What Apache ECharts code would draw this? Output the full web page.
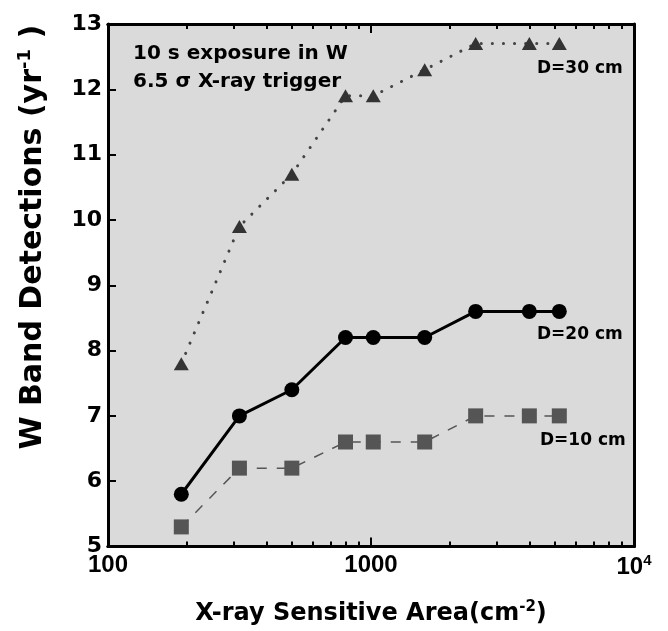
<!DOCTYPE html>
<html>
<head>
<meta charset="utf-8">
<script src="https://cdn.jsdelivr.net/npm/echarts@6/dist/echarts.min.js"></script>
<style>
  html, body { margin: 0; padding: 0; background: #fff; }
  #chart { width: 668px; height: 631px; }
</style>
</head>
<body>
<div id="chart"></div>
<script>
// x-ray sensitive area (cm^-2)
const areas = [190, 316, 500, 800, 1020, 1600, 2500, 4000, 5200]
// detections per year for each distance
const d30 = [7.8, 9.9, 10.7, 11.9, 11.9, 12.3, 12.7, 12.7, 12.7]
const d20 = [5.8, 7.0, 7.4, 8.2, 8.2, 8.2, 8.6, 8.6, 8.6]
const d10 = [5.3, 6.2, 6.2, 6.6, 6.6, 6.6, 7.0, 7.0, 7.0]
const seriesNames = ['D=30 cm', 'D=20 cm', 'D=10 cm']
const xMajor = [100, 1000, 10000]
const xMinor = [200, 300, 400, 500, 600, 700, 800, 900, 2000, 3000, 4000, 5000, 6000, 7000, 8000, 9000]

const sansFont = '"Liberation Sans", Arial, sans-serif'
const textFont = '"DejaVu Sans", sans-serif'

function pairs(ys) {
  return areas.map((x, i) => [x, ys[i]])
}

function xAxisDef(pos, ticks, len, withLabels) {
  return {
    type: 'log',
    logBase: 10,
    min: 100,
    max: 10000,
    position: pos,
    axisLine: { show: true, lineStyle: { color: '#000', width: 3 } },
    axisTick: { show: true, inside: true, length: len, customValues: ticks, lineStyle: { color: '#000', width: 2 } },
    axisLabel: withLabels ? {
      show: true,
      customValues: xMajor,
      margin: 7,
      color: '#000',
      fontFamily: sansFont,
      fontWeight: 'bold',
      fontSize: 24,
      formatter: function(v) {
        return v === 10000 ? '10{s|4}' : String(v)
      },
      rich: {
        s: { fontSize: 15, fontWeight: 'bold', fontFamily: sansFont, padding: [0, 0, 12, 0], color: '#000' }
      }
    } : { show: false },
    splitLine: { show: false },
    minorTick: { show: false }
  }
}

const xAxes = [
  xAxisDef('bottom', xMajor, 9, true),
  xAxisDef('bottom', xMinor, 5, false),
  xAxisDef('top', xMajor, 9, false),
  xAxisDef('top', xMinor, 5, false)
]
xAxes[0].name = 'X-ray Sensitive Area(cm{s|-2})'
xAxes[0].nameLocation = 'middle'
xAxes[0].nameGap = 53
xAxes[0].nameTextStyle = {
  fontFamily: textFont, fontWeight: 'bold', fontSize: 24, color: '#000',
  rich: { s: { fontFamily: textFont, fontWeight: 'bold', fontSize: 15, color: '#000', padding: [0, 0, 14, 0] } }
}

const chart = echarts.init(document.getElementById('chart'))
chart.setOption({
  backgroundColor: '#fff',
  animation: false,
  grid: {
    left: 108,
    right: 34,
    top: 24,
    bottom: 79,
    show: true,
    backgroundColor: '#dadada',
    borderWidth: 0
  },
  xAxis: xAxes,
  yAxis: [
    {
      type: 'value',
      min: 5,
      max: 13,
      interval: 1,
      position: 'left',
      name: 'W Band Detections (yr{s|-1} )',
      nameLocation: 'middle',
      nameGap: 57,
      nameTextStyle: {
        fontFamily: textFont, fontWeight: 'bold', fontSize: 30, color: '#000',
        padding: [0, 0, 0, 96],
        rich: { s: { fontFamily: textFont, fontWeight: 'bold', fontSize: 18, color: '#000', padding: [0, 0, 17, 0] } }
      },
      axisLine: { show: true, lineStyle: { color: '#000', width: 3 } },
      axisTick: { show: true, inside: true, length: 8, lineStyle: { color: '#000', width: 2 } },
      axisLabel: { margin: 6, color: '#000', fontFamily: textFont, fontWeight: 'bold', fontSize: 22 },
      splitLine: { show: false }
    },
    {
      type: 'value',
      min: 5,
      max: 13,
      position: 'right',
      axisLine: { show: true, lineStyle: { color: '#000', width: 3 } },
      axisTick: { show: false },
      axisLabel: { show: false },
      splitLine: { show: false }
    }
  ],
  series: [
    {
      name: seriesNames[0],
      type: 'line',
      data: pairs(d30),
      symbol: 'triangle',
      symbolSize: [15, 13],
      itemStyle: { color: '#333' },
      lineStyle: { color: '#444', width: 3, type: [0.1, 11], cap: 'round' },
      z: 3
    },
    {
      name: seriesNames[1],
      type: 'line',
      data: pairs(d20),
      symbol: 'circle',
      symbolSize: 15,
      itemStyle: { color: '#000' },
      lineStyle: { color: '#000', width: 3 },
      z: 4
    },
    {
      name: seriesNames[2],
      type: 'line',
      data: pairs(d10),
      symbol: 'rect',
      symbolSize: 15,
      itemStyle: { color: '#555' },
      lineStyle: { color: '#555', width: 1.5, type: [10, 10] },
      z: 3
    }
  ],
  graphic: [
    { type: 'text', left: 133, top: 44, style: { text: '10 s exposure in W', font: 'bold 20px ' + textFont, fill: '#000' } },
    { type: 'text', left: 133, top: 72, style: { text: '6.5 σ X-ray trigger', font: 'bold 20px ' + textFont, fill: '#000' } },
    { type: 'text', left: 537, top: 60, style: { text: seriesNames[0], font: 'bold 17px ' + textFont, fill: '#000' } },
    { type: 'text', left: 537, top: 326, style: { text: seriesNames[1], font: 'bold 17px ' + textFont, fill: '#000' } },
    { type: 'text', left: 540, top: 432, style: { text: seriesNames[2], font: 'bold 17px ' + textFont, fill: '#000' } }
  ]
})
</script>
</body>
</html>
